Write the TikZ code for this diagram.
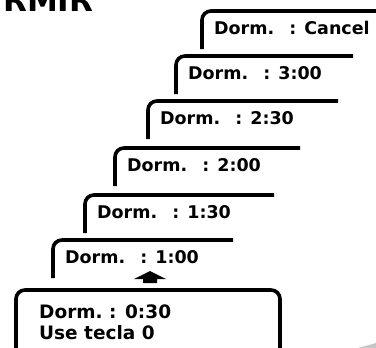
\documentclass[tikz,border=0pt]{standalone}
\usepackage{fontspec}
\setmainfont{DejaVu Sans}
\usetikzlibrary{positioning}

\begin{document}
\begin{tikzpicture}[
    x=1pt,
    y=-1pt,
    card/.style={
        line width=3.6pt,
        rounded corners=9pt
    },
    menutext/.style={
        anchor=north west,
        inner sep=0pt,
        font=\bfseries\fontsize{17.5}{21}\selectfont
    },
    screentext/.style={
        menutext,
        font=\bfseries\fontsize{18.5}{22}\selectfont
    }
]
\useasboundingbox (0,0) rectangle (376,348);

\node[anchor=base west, inner sep=0pt, font=\bfseries\fontsize{31}{36}\selectfont] (title) at (3,12) {RMIR};

% stacked menu cards, back to front
\foreach \lx/\ty/\rx/\txt [count=\i] in {
    202/11/390/Cancel,
    176/56/353/3:00,
    148/101/338/2:30,
    115/148/300/2:00,
    85/195/274/1:30,
    53/240/233/1:00}
{
    \draw[card] (\lx,\ty+38) -- (\lx,\ty) -- (\rx,\ty);
    \node[menutext] (card\i) at (\lx+12,\ty+10) {Dorm.\hspace{15pt}: \txt};
}

% up key
\fill (150,271) -- (166,279) -- (157,279) -- (157,283) -- (143,283)
    -- (143,279) -- (134,279) -- cycle;

% display
\draw[card] (16,365) -- (16,290) -- (280,290) -- (280,365);
\node[screentext] (dorm) at (39,305) {Dorm.\ : 0:30};
\node[screentext, below=6pt of dorm.south west, anchor=north west] (key) {Use tecla 0};

\fill[gray!45] (358,348) -- (376,343) -- (376,348) -- cycle;

\end{tikzpicture}
\end{document}
